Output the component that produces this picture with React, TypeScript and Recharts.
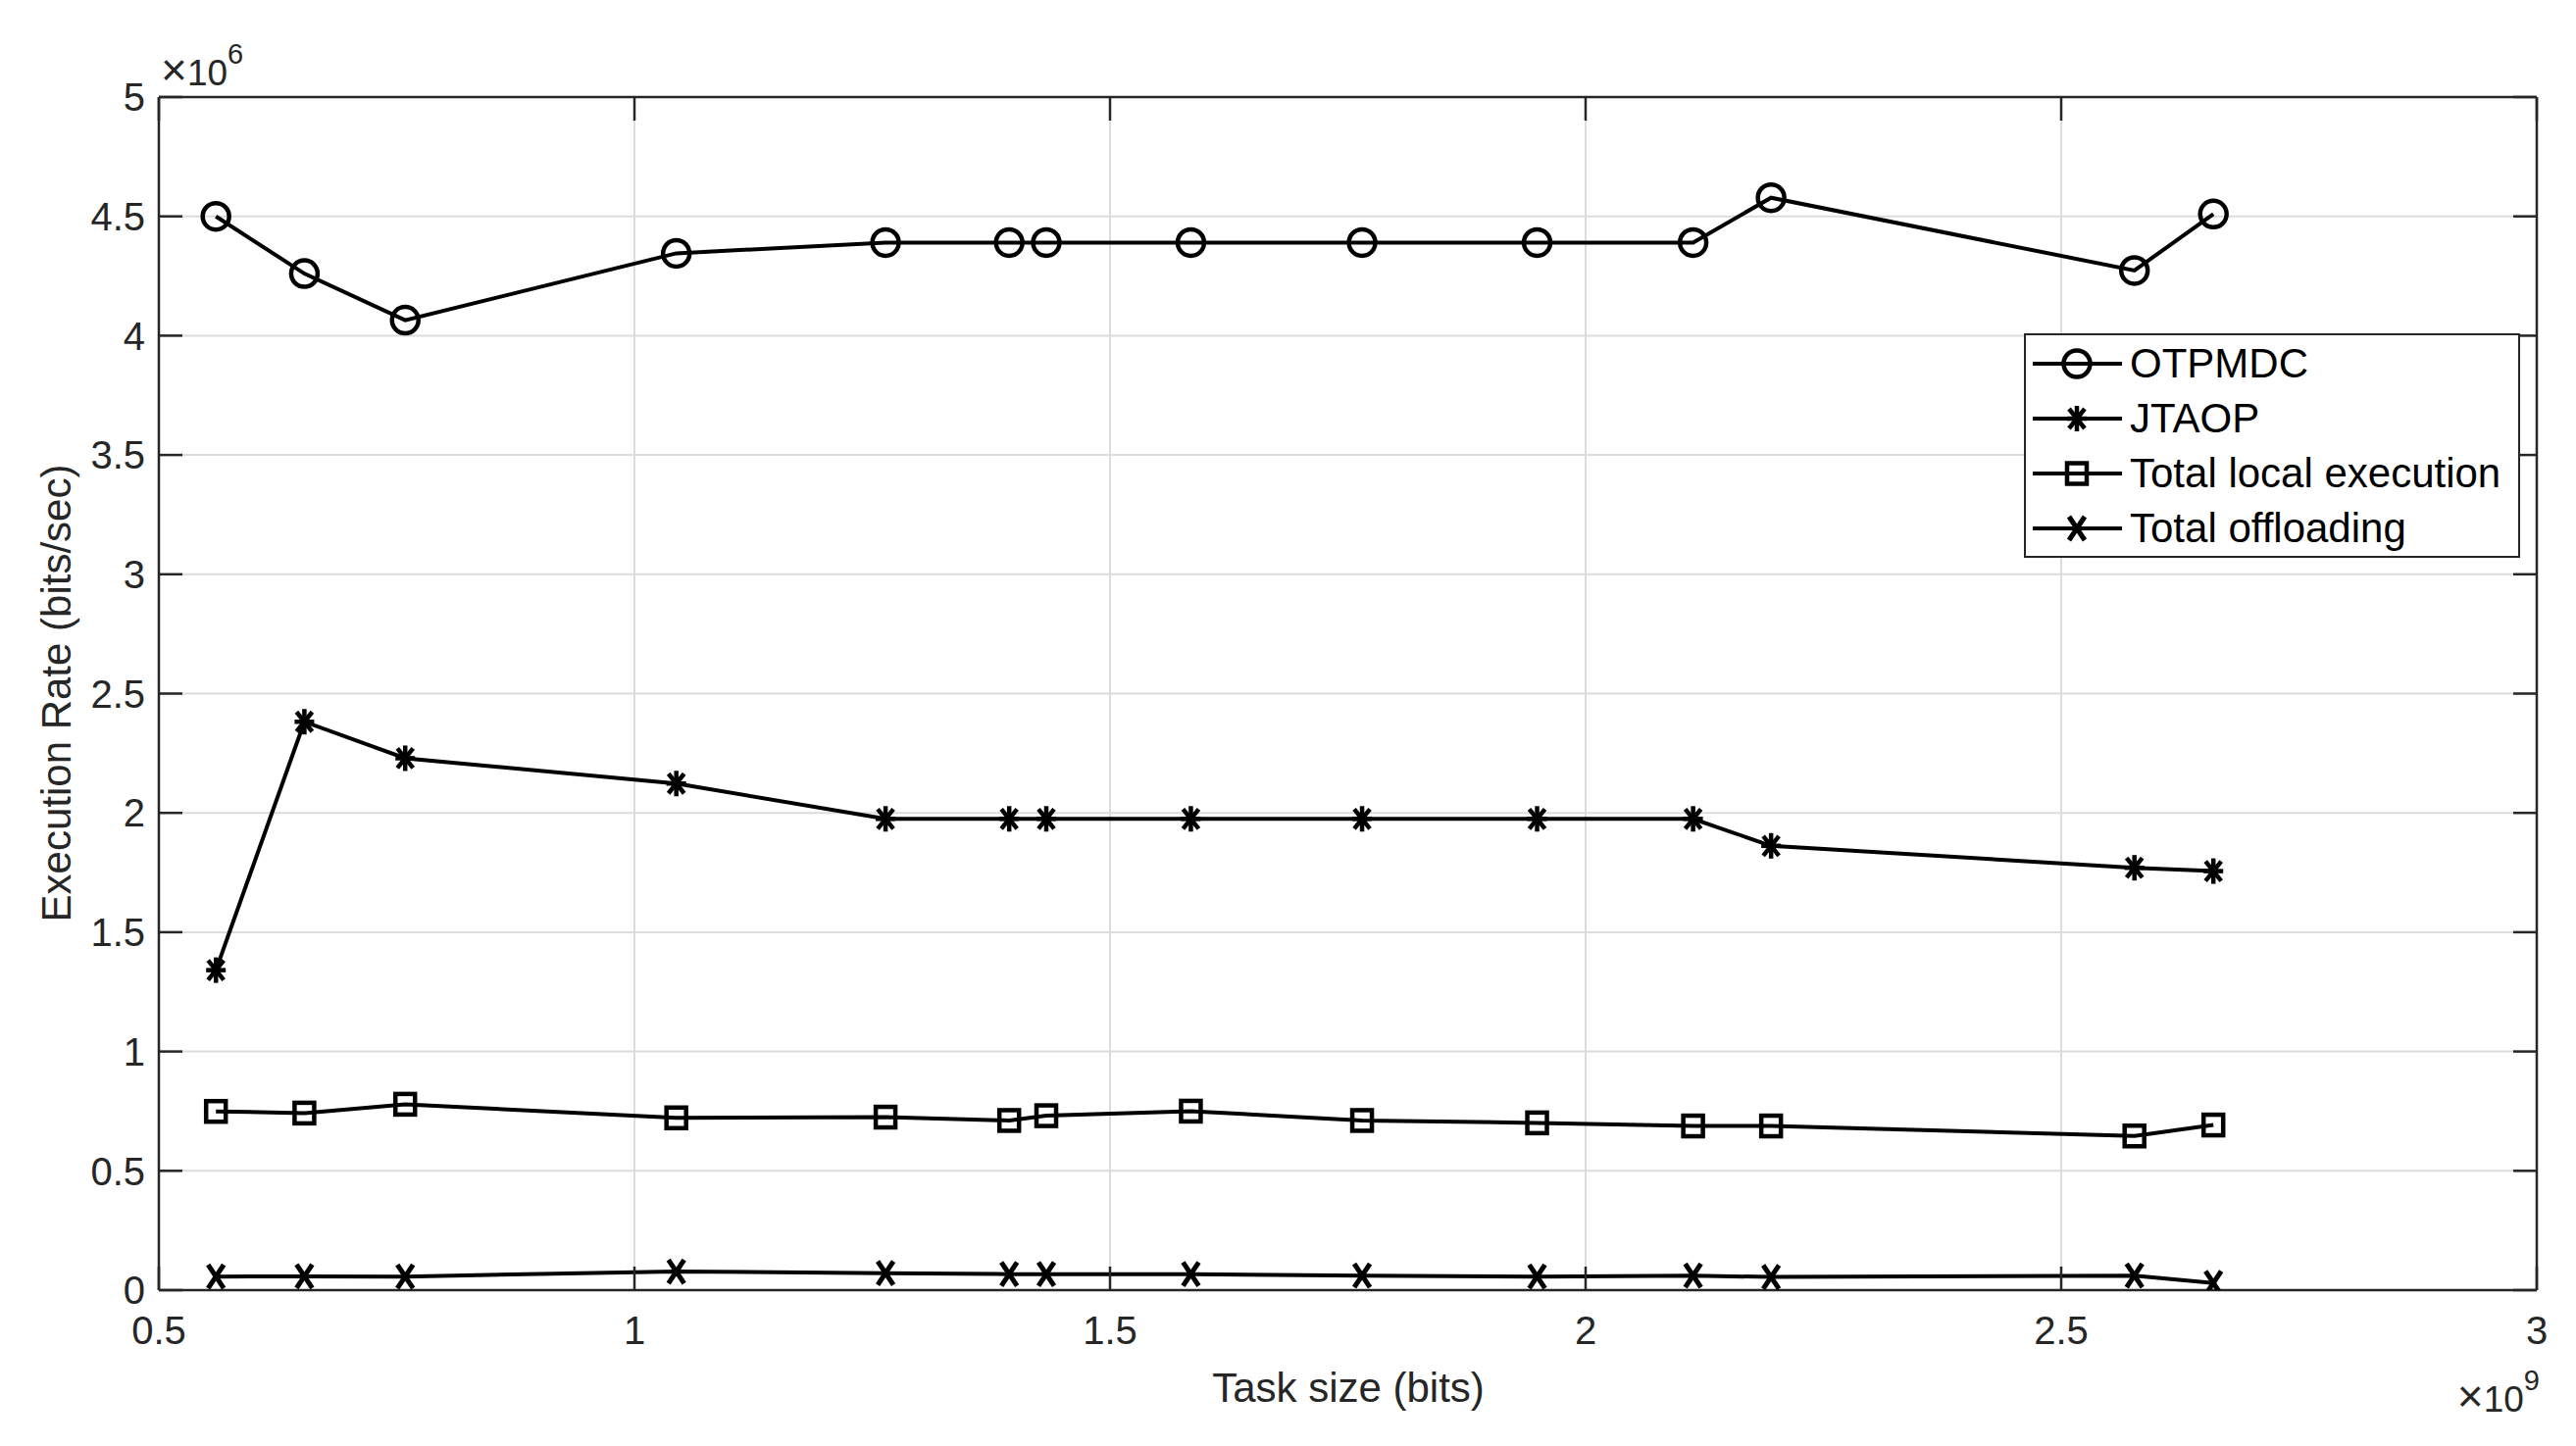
import { LineChart, Line, XAxis, YAxis, CartesianGrid, Legend } from "recharts"

// task size in units of 1e9 bits, rates in units of 1e6 bits/sec
const taskSize = [0.56, 0.653, 0.759, 1.044, 1.264, 1.394, 1.433, 1.585, 1.765, 1.949, 2.113, 2.195, 2.577, 2.66]
const otpmdc = [4.5, 4.26, 4.065, 4.345, 4.39, 4.39, 4.39, 4.39, 4.39, 4.39, 4.39, 4.578, 4.273, 4.51]
const jtaop = [1.341, 2.382, 2.229, 2.123, 1.975, 1.975, 1.975, 1.975, 1.975, 1.975, 1.975, 1.862, 1.77, 1.756]
const localExec = [0.749, 0.742, 0.779, 0.722, 0.725, 0.711, 0.731, 0.75, 0.711, 0.701, 0.688, 0.688, 0.646, 0.692]
const offloading = [0.057, 0.058, 0.057, 0.078, 0.071, 0.067, 0.067, 0.067, 0.061, 0.057, 0.061, 0.055, 0.061, 0.03]

const seriesKeys = ["otpmdc", "jtaop", "local", "offload"]
const seriesNames = ["OTPMDC", "JTAOP", "Total local execution", "Total offloading"]

const xTicks = [0.5, 1, 1.5, 2, 2.5, 3]
const yTicks = [0, 0.5, 1, 1.5, 2, 2.5, 3, 3.5, 4, 4.5, 5]

const data = taskSize.map((x, i) => ({
  x,
  otpmdc: otpmdc[i],
  jtaop: jtaop[i],
  local: localExec[i],
  offload: offloading[i]
}))

const INK = "#000"
const AXIS = "#262626"

type Kind = "circle" | "star" | "square" | "cross"

const markerOf: Record<string, Kind> = {
  otpmdc: "circle",
  jtaop: "star",
  local: "square",
  offload: "cross"
}

function marker(kind: Kind, cx: number, cy: number, key?: string | number) {
  const sw = 4.5
  if (kind === "circle") {
    return <circle key={key} cx={cx} cy={cy} r={13.5} fill="none" stroke={INK} strokeWidth={sw} />
  }
  if (kind === "square") {
    return <rect key={key} x={cx - 10} y={cy - 10.5} width={20} height={21} fill="none" stroke={INK} strokeWidth={sw} />
  }
  if (kind === "cross") {
    return (
      <g key={key}>
        <line x1={cx - 8} y1={cy - 12} x2={cx + 8} y2={cy + 12} stroke={INK} strokeWidth={5} />
        <line x1={cx - 8} y1={cy + 12} x2={cx + 8} y2={cy - 12} stroke={INK} strokeWidth={5} />
      </g>
    )
  }
  const d = 8
  return (
    <g key={key}>
      <line x1={cx} y1={cy - 13} x2={cx} y2={cy + 13} stroke={INK} strokeWidth={sw} />
      <line x1={cx - 10} y1={cy} x2={cx + 10} y2={cy} stroke={INK} strokeWidth={sw} />
      <line x1={cx - d} y1={cy - d - 2} x2={cx + d} y2={cy + d + 2} stroke={INK} strokeWidth={sw} />
      <line x1={cx - d} y1={cy + d + 2} x2={cx + d} y2={cy - d - 2} stroke={INK} strokeWidth={sw} />
    </g>
  )
}

const dotFor = (kind: Kind) => (p: any) => marker(kind, p.cx, p.cy, `${kind}-${p.index}`)

const noTick = () => <g />

function LegendBox() {
  return (
    <div
      style={{
        width: 506,
        height: 229,
        border: `2px solid ${AXIS}`,
        background: "#fff",
        boxSizing: "border-box",
        position: "relative"
      }}
    >
      {seriesKeys.map((key, i) => (
        <div
          key={key}
          style={{
            position: "absolute",
            left: 0,
            top: 1 + i * 56,
            height: 56,
            display: "flex",
            alignItems: "center"
          }}
        >
          <svg width={100} height={56}>
            <line x1={7} x2={98} y1={28} y2={28} stroke={INK} strokeWidth={4} />
            {marker(markerOf[key], 52, 28)}
          </svg>
          <span style={{ fontSize: 42, color: INK, marginLeft: 6, whiteSpace: "nowrap" }}>{seriesNames[i]}</span>
        </div>
      ))}
    </div>
  )
}

export default function App() {
  const tickStyle = { fill: AXIS, fontSize: 40 }
  const inTick = { stroke: AXIS, strokeWidth: 2.5 }
  return (
    <div
      style={{
        position: "fixed",
        left: 0,
        top: 0,
        width: 2627,
        height: 1475,
        background: "#fff",
        fontFamily: "'Liberation Sans', Arial, Helvetica, sans-serif"
      }}
    >
      <LineChart width={2627} height={1475} data={data} margin={{ top: 99, right: 40, bottom: 99, left: 62 }}>
        <CartesianGrid stroke="#dcdcdc" strokeWidth={2} />

        <XAxis
          dataKey="x"
          type="number"
          domain={[0.5, 3]}
          ticks={xTicks}
          allowDataOverflow
          height={60}
          tickLine={false}
          tickSize={0}
          tickMargin={27}
          tick={tickStyle}
          axisLine={{ stroke: AXIS, strokeWidth: 2.5 }}
        />
        <XAxis
          xAxisId="bottomIn"
          dataKey="x"
          type="number"
          domain={[0.5, 3]}
          ticks={xTicks}
          allowDataOverflow
          mirror
          height={30}
          tick={noTick}
          tickSize={24}
          tickLine={inTick}
          axisLine={false}
        />
        <XAxis
          xAxisId="topIn"
          orientation="top"
          dataKey="x"
          type="number"
          domain={[0.5, 3]}
          ticks={xTicks}
          allowDataOverflow
          mirror
          height={30}
          tick={noTick}
          tickSize={24}
          tickLine={inTick}
          axisLine={{ stroke: AXIS, strokeWidth: 2.5 }}
        />

        <YAxis
          type="number"
          domain={[0, 5]}
          ticks={yTicks}
          allowDataOverflow
          width={100}
          tickLine={false}
          tickSize={0}
          tickMargin={14}
          tick={tickStyle}
          axisLine={{ stroke: AXIS, strokeWidth: 2.5 }}
        />
        <YAxis
          yAxisId="leftIn"
          type="number"
          domain={[0, 5]}
          ticks={yTicks}
          allowDataOverflow
          mirror
          width={30}
          tick={noTick}
          tickSize={24}
          tickLine={inTick}
          axisLine={false}
        />
        <YAxis
          yAxisId="rightIn"
          orientation="right"
          type="number"
          domain={[0, 5]}
          ticks={yTicks}
          allowDataOverflow
          mirror
          width={30}
          tick={noTick}
          tickSize={24}
          tickLine={inTick}
          axisLine={{ stroke: AXIS, strokeWidth: 2.5 }}
        />

        <Legend
          layout="vertical"
          align="center"
          verticalAlign="middle"
          content={LegendBox}
          wrapperStyle={{ left: 2064, top: 340, width: 506, height: 229 }}
        />

        <Line name="OTPMDC" dataKey="otpmdc" stroke={INK} strokeWidth={4} dot={dotFor("circle")} activeDot={false} isAnimationActive={false} />
        <Line name="JTAOP" dataKey="jtaop" stroke={INK} strokeWidth={4} dot={dotFor("star")} activeDot={false} isAnimationActive={false} />
        <Line name="Total local execution" dataKey="local" stroke={INK} strokeWidth={4} dot={dotFor("square")} activeDot={false} isAnimationActive={false} />
        <Line name="Total offloading" dataKey="offload" stroke={INK} strokeWidth={4} dot={dotFor("cross")} activeDot={false} isAnimationActive={false} />
      </LineChart>

      <svg
        width={2627}
        height={1475}
        style={{ position: "absolute", left: 0, top: 0, pointerEvents: "none" }}
      >
        <text x={164} y={87} fill={AXIS}>
          <tspan fontSize={46}>×</tspan>
          <tspan fontSize={37}>10</tspan>
          <tspan dy={-22} fontSize={29}>6</tspan>
        </text>
        <text x={2590} y={1440} fill={AXIS} textAnchor="end">
          <tspan fontSize={46}>×</tspan>
          <tspan fontSize={37}>10</tspan>
          <tspan dy={-22} fontSize={29}>9</tspan>
        </text>
        <text x={1375} y={1430} fontSize={42} fill={AXIS} textAnchor="middle">
          Task size (bits)
        </text>
        <text x={0} y={0} fontSize={42} fill={AXIS} textAnchor="middle" transform="translate(72 707) rotate(-90)">
          Execution Rate (bits/sec)
        </text>
      </svg>
    </div>
  )
}
